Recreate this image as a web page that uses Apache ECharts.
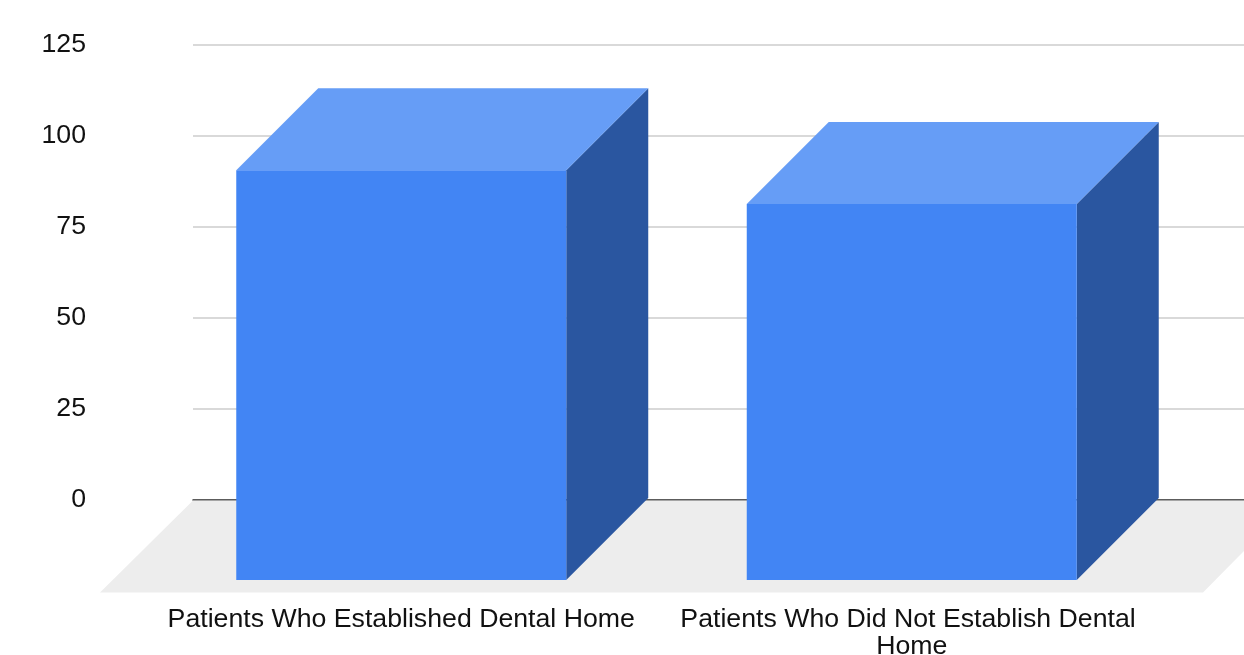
<!DOCTYPE html>
<html>
<head>
<meta charset="utf-8">
<style>html,body{margin:0;padding:0;background:#fff}#c{width:1244px;height:655px}</style>
<script src="https://cdn.jsdelivr.net/npm/echarts@6/dist/echarts.min.js"></script>
</head>
<body>
<div id="c"></div>
<script>
const categories = ['Patients Who Established Dental Home', 'Patients Who Did Not Establish Dental Home'];
const values = [112.6, 103.3];
const yTicks = [0, 25, 50, 75, 100, 125];

const DEPTH = 82;
const FONT = '"Liberation Sans", Arial, sans-serif';
const chart = echarts.init(document.getElementById('c'), null, {renderer: 'canvas'});

function renderBar(params, api) {
  const i = api.value(0);
  const base = api.coord([i, 0]);
  const top = api.coord([i, api.value(1)]);
  const w = api.size([1, 0])[0] * 0.6464;
  const l = base[0] - w / 2, r = base[0] + w / 2;
  const d = DEPTH;
  return {
    type: 'group',
    children: [
      {type: 'polygon', shape: {points: [[r, top[1]], [r + d, top[1] - d], [r + d, base[1] - d], [r, base[1]]]}, style: {fill: '#2A56A0'}},
      {type: 'polygon', shape: {points: [[l, top[1]], [l + d, top[1] - d], [r + d, top[1] - d], [r, top[1]]]}, style: {fill: '#669DF6'}},
      {type: 'rect', shape: {x: l, y: top[1], width: w, height: base[1] - top[1]}, style: {fill: '#4285F4'}}
    ]
  };
}

function renderFloor(params, api) {
  const cs = params.coordSys;
  const yb = cs.y + cs.height;
  const drop = 93;
  return {
    type: 'polygon',
    shape: {points: [
      [cs.x, yb + 1], [cs.x + cs.width + 50, yb + 1],
      [cs.x + cs.width - 41, yb + drop],
      [cs.x - drop, yb + drop]
    ]},
    style: {fill: '#EDEDED'}
  };
}

chart.setOption({
  animation: false,
  backgroundColor: '#fff',
  grid: [
    {left: 193, right: 0, top: 44.5, height: 455, outerBoundsMode: 'none'},
    {left: 146, width: 1021, top: 125, height: 455, outerBoundsMode: 'none'}
  ],
  xAxis: [
    {gridIndex: 0, type: 'category', data: categories, axisLabel: {show: false}, axisTick: {show: false},
     axisLine: {show: true, lineStyle: {color: '#333', width: 1.5}}},
    {gridIndex: 1, type: 'category', data: categories, axisTick: {show: false}, axisLine: {show: false},
     axisLabel: {interval: 0, color: '#111', fontFamily: FONT, fontSize: 26.7, lineHeight: 27, margin: 26,
                 width: 480, overflow: 'break'}}
  ],
  yAxis: [
    {gridIndex: 0, type: 'value', min: yTicks[0], max: yTicks[yTicks.length - 1], interval: 25,
     axisLine: {show: false}, axisTick: {show: false},
     axisLabel: {color: '#111', fontFamily: FONT, fontSize: 26.7, margin: 107},
     splitLine: {lineStyle: {color: '#cccccc', width: 1.5}}},
    {gridIndex: 1, type: 'value', min: yTicks[0], max: yTicks[yTicks.length - 1], show: false, splitLine: {show: false}}
  ],
  series: [
    {type: 'custom', xAxisIndex: 0, yAxisIndex: 0, renderItem: renderFloor, data: [[0, 0]], clip: false, z: 1, silent: true},
    {type: 'custom', xAxisIndex: 1, yAxisIndex: 1, renderItem: renderBar, encode: {x: 0, y: 1},
     data: values.map((v, i) => [i, v]), clip: false, z: 3}
  ]
});
</script>
</body>
</html>
